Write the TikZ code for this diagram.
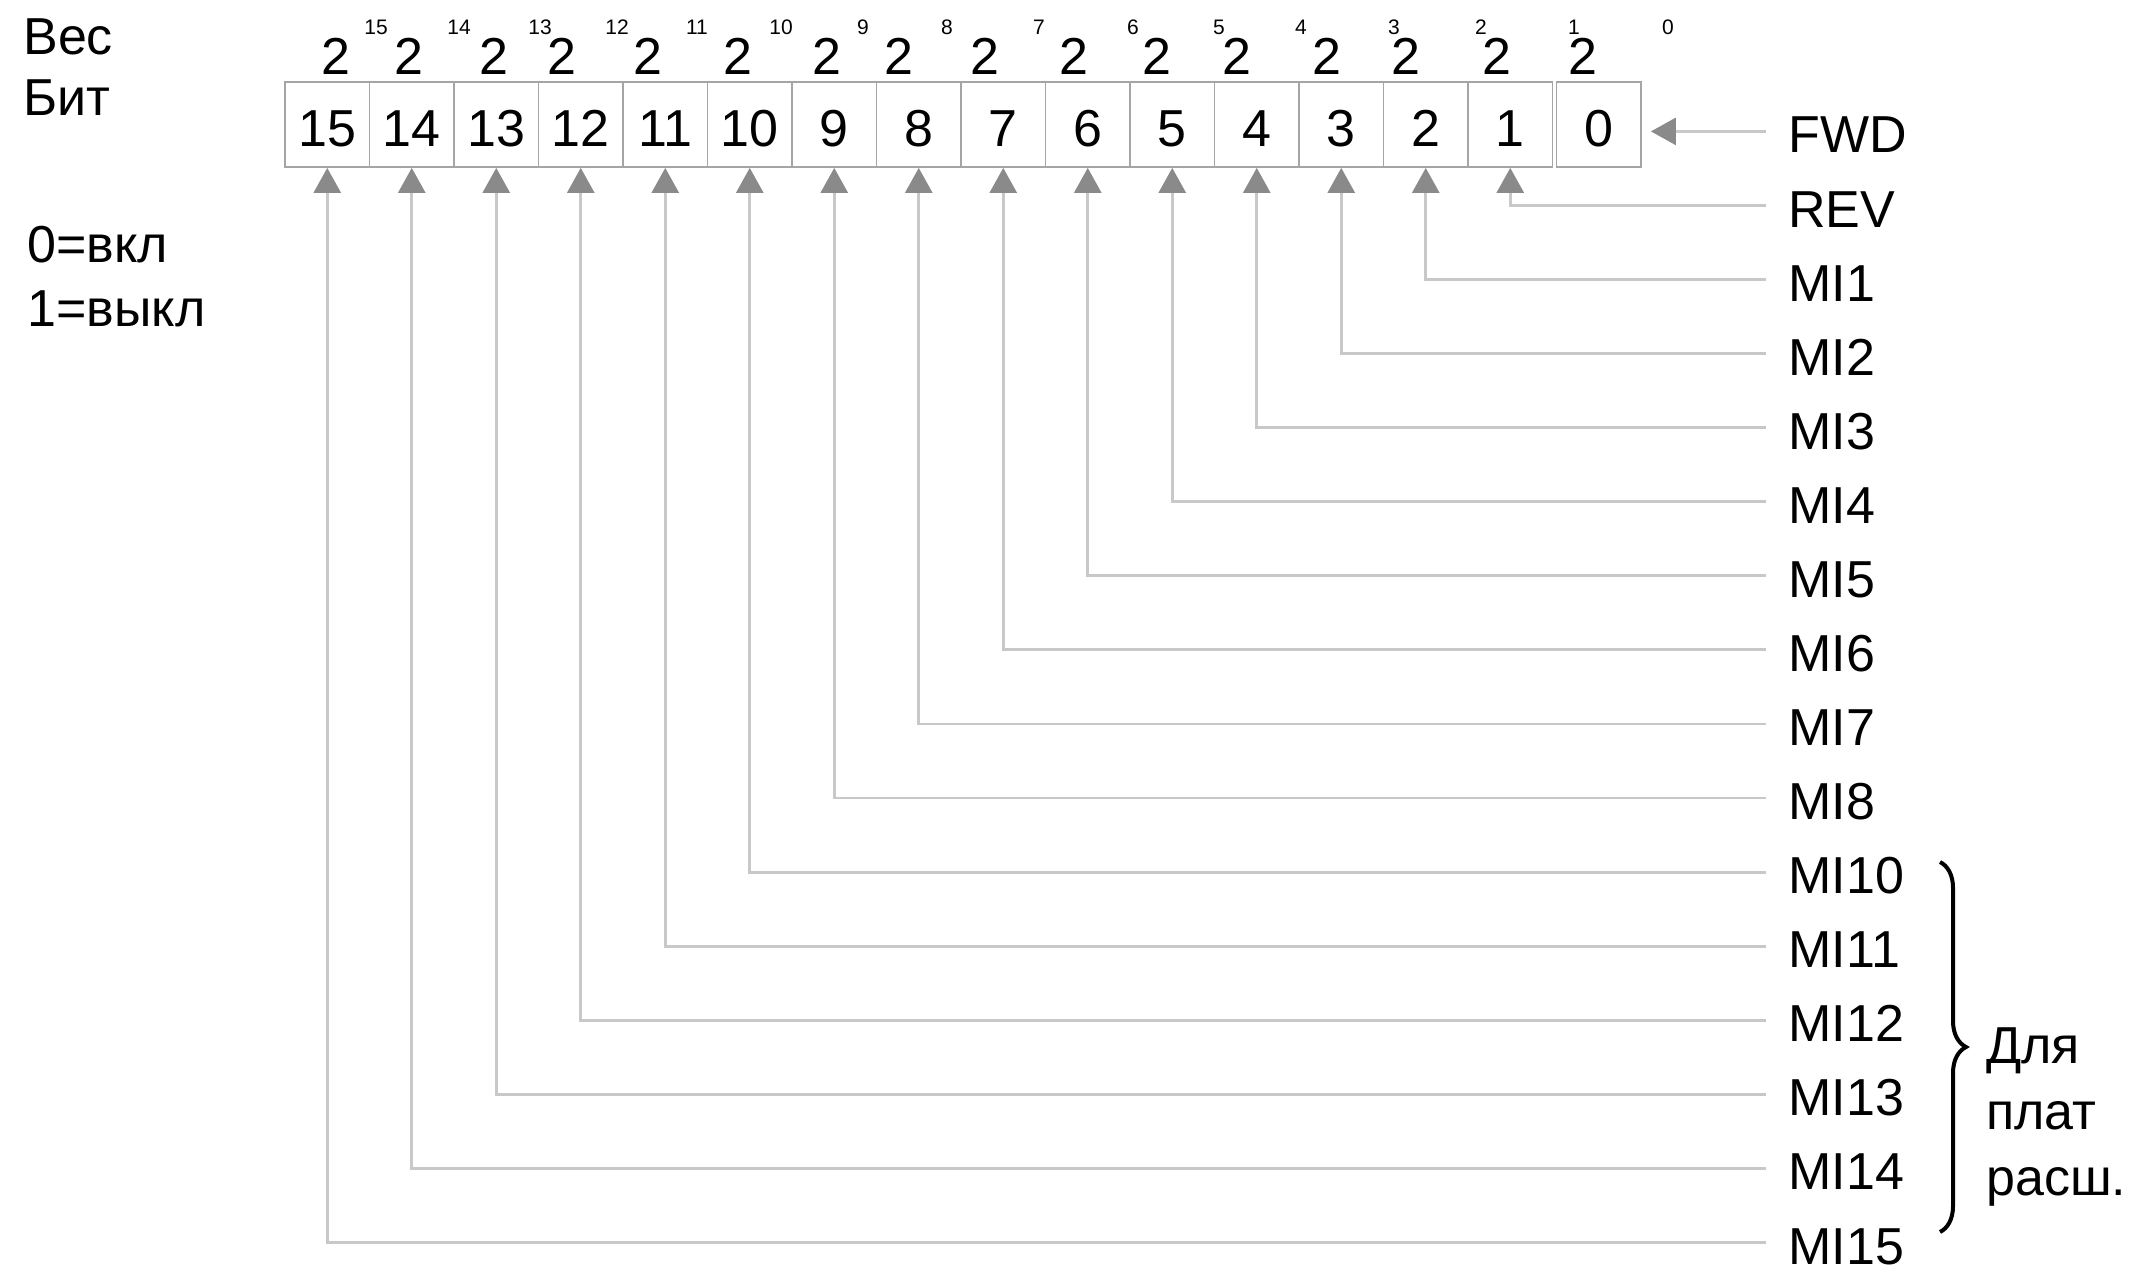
\documentclass[tikz,border=0pt]{standalone}
\usepackage{fontspec}
\setmainfont{Liberation Sans}
\usepackage{xcolor}
\usepackage{tikz}
\usetikzlibrary{arrows.meta, positioning, decorations.pathreplacing}
\definecolor{boxGray}{RGB}{165, 165, 165}
\definecolor{lineGray}{RGB}{200, 200, 200}
\definecolor{tipGray}{RGB}{138, 138, 138}

\begin{document}
\begin{tikzpicture}[x=0.5pt, y=-0.5pt,
    every node/.style={font=\fontsize{26}{31}\selectfont, inner sep=0pt},
    cell/.style={draw=boxGray, line width=0.9pt, minimum width=42.25pt, minimum height=42.5pt, text height=22.1pt, text depth=0pt},
    sup/.style={font=\fontsize{10.5}{12}\selectfont, anchor=base},
    lbl/.style={anchor=base west, inner xsep=11pt, text height=21.6pt, text depth=0pt},
    feed/.style={draw=lineGray, line width=1.4pt, -{Triangle[width=13.5pt, length=12.5pt, color=tipGray]}}]
    \useasboundingbox (0,0) rectangle (2140,1279);
    % left captions
    \node[anchor=base west] (weightLbl) at (23,55) {Вес};
    \node[anchor=base west] (bitLbl) at (23,116) {Бит};
    \node[anchor=base west] (onLbl) at (27,262) {0=вкл};
    \node[anchor=base west] (offLbl) at (27,326) {1=выкл};
    % register cells
    \foreach \b in {15,...,0} {
        \pgfmathsetmacro{\cx}{327.25+84.5*(15-\b)+4*(\b==0)}
        \node[cell] (c\b) at (\cx,124.5) {\b};
    }
    % weights
    \foreach \b/\tx/\sx in {
        15/336/376, 14/409/459, 13/494/540, 12/562/617, 11/648/697, 10/738/781,
        9/827/863, 8/899/947, 7/985/1039, 6/1074/1133, 5/1157/1219, 4/1237/1301,
        3/1327/1394, 2/1406/1481, 1/1497/1574, 0/1583/1668} {
        \node[anchor=base] (w\b) at (\tx,75) {2};
        \node[sup] (e\b) at (\sx,35) {\b};
    }
    % signal names
    \foreach \b/\name in {
        0/FWD, 1/REV, 2/MI1, 3/MI2, 4/MI3, 5/MI4, 6/MI5, 7/MI6, 8/MI7, 9/MI8,
        10/MI10, 11/MI11, 12/MI12, 13/MI13, 14/MI14, 15/MI15} {
        \pgfmathsetmacro{\ly}{153+74.07*\b}
        \node[lbl] (l\b) at (1766,\ly) {\name};
    }
    \draw[feed, shorten >=4.5pt] (l0.west) -- (l0.west -| c0.east);
    \foreach \b in {1,...,15}
        \draw[feed] (l\b.west) -| (c\b.south);
    % expansion boards
    \draw[decorate, decoration={brace, amplitude=13pt}, line width=2pt] (1940,862) -- (1940,1232);
    \node[anchor=north west, align=left, font=\fontsize{26}{33}\selectfont] (extNote) at (1986,1027) {Для\\плат\\расш.};
\end{tikzpicture}
\end{document}
